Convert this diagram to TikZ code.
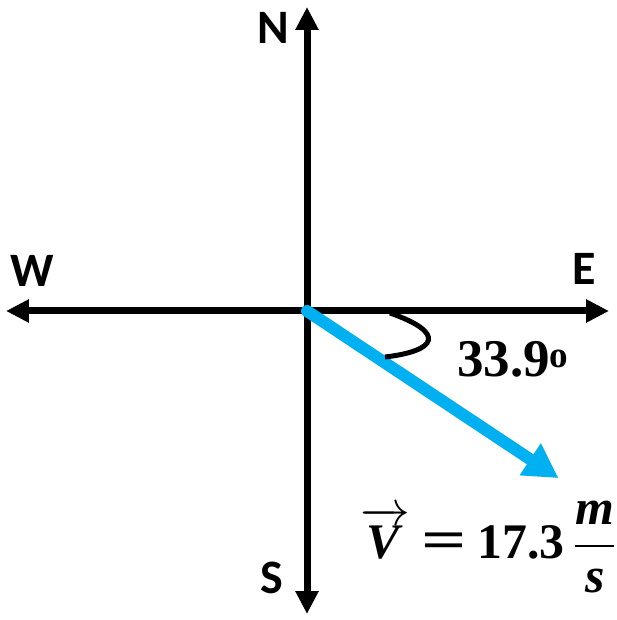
\documentclass[tikz,border=0pt]{standalone}
\usepackage{amsmath}
\usepackage{fontspec}
\setmainfont{Liberation Serif}
\newfontfamily\dirfont{Carlito}
\usetikzlibrary{arrows.meta}
\definecolor{velblue}{RGB}{0,176,240}
\newcommand\bfit[1]{\textbf{\textit{#1}}}
\newcommand\magtext{$\overrightarrow{\bfit{V}}\:\scalebox{1.6}[1.1]{\textbf{=}}\:\textbf{17.3}\,\dfrac{\bfit{m}}{\bfit{s}}$}
\begin{document}
\begin{tikzpicture}[x=1pt,y=1pt,
    axis/.style={line width=7pt,{Triangle[length=23pt,width=22pt]}-{Triangle[length=23pt,width=22pt]}},
    vel/.style={line width=12pt,velblue,line cap=round,-{Triangle[length=34pt,width=36pt]}},
    dir/.style={font=\dirfont\bfseries\fontsize{48}{50}\selectfont}]
    % constants
    \def\angleV{33.6}
    \def\lengthV{302}
    \useasboundingbox (-307,-309) rectangle (310,311);
    % axis ends
    \coordinate (O) at (0, 0);
    \coordinate (N) at (0, 304);
    \coordinate (S) at (0, -303);
    \coordinate (W) at (-301, 0);
    \coordinate (E) at (302, 0);
    \coordinate (V) at (-\angleV:\lengthV);
    % direction labels
    \node [dir] (Nlabel) at (-34, 283) {N};
    \node [dir] (Slabel) at (-35, -267) {S};
    \node [dir] (Wlabel) at (-275, 40) {W};
    \node [dir] (Elabel) at (277, 42) {E};
    % axes
    \draw [axis] (W) -- (E);
    \draw [axis] (S) -- (N);
    % velocity
    \draw [vel] (O) -- (V);
    % angle mark
    \draw [line width=5pt] (83,-2) .. controls (140,-22) and (130,-40) .. (78,-46);
    \node [anchor=base west,inner sep=0pt,font=\bfseries\fontsize{53}{56}\selectfont] (angle) at (150,-66) {33.9\textsuperscript{o}};
    % magnitude
    \node [anchor=base west,inner sep=0pt,scale=2,font=\Huge] (mag) at (53,-247) {\magtext};
\end{tikzpicture}
\end{document}
